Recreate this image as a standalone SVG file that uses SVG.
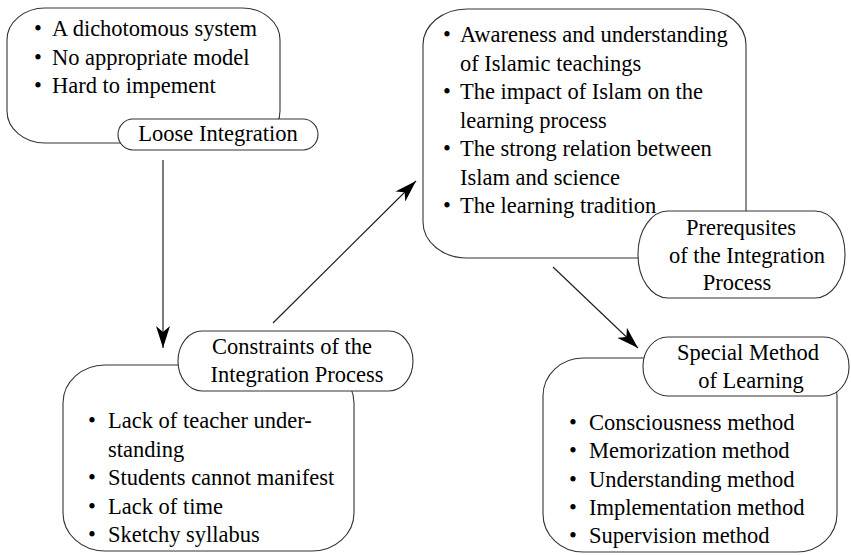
<svg xmlns="http://www.w3.org/2000/svg" width="851" height="555" viewBox="0 0 851 555">
<defs>
<style>
.box{fill:#fff;stroke:#333;stroke-width:1.1}
.t{font-size:22.5px;fill:#000}
.c{text-anchor:middle}
.b{text-anchor:middle}
.ln{stroke:#222;stroke-width:1.2;fill:none}
</style>
<marker id="ah" viewBox="0 0 22 14" refX="22" refY="7" markerWidth="22" markerHeight="14" markerUnits="userSpaceOnUse" orient="auto">
<path d="M0,0 L22,7 L0,14 L6,7 Z" fill="#000"/>
</marker>
</defs>
<rect width="851" height="555" fill="#fff"/>
<g id="connectors">
<line class="ln" x1="163" y1="160" x2="163" y2="348" marker-end="url(#ah)"/>
<line class="ln" x1="273" y1="323" x2="416" y2="181" marker-end="url(#ah)"/>
<line class="ln" x1="553" y1="267" x2="638" y2="348" marker-end="url(#ah)"/>
</g>
<g id="loose" font-family="Liberation Serif">
<rect class="box" x="7" y="8" width="273" height="135" rx="38" ry="32"/>
<text class="t b" x="38" y="36">•</text><text class="t" x="52" y="36">A dichotomous system</text>
<text class="t b" x="38" y="64.5">•</text><text class="t" x="52" y="64.5">No appropriate model</text>
<text class="t b" x="38" y="93">•</text><text class="t" x="52" y="93">Hard to impement</text>
<rect class="box" x="118" y="119" width="200" height="31" rx="15" ry="15.5"/>
<text class="t c" x="218" y="141">Loose Integration</text>
</g>
<g id="prereq" font-family="Liberation Serif">
<rect class="box" x="423" y="9" width="323" height="249" rx="44" ry="36"/>
<text class="t b" x="447" y="42">•</text><text class="t" x="460" y="42">Awareness and understanding</text>
<text class="t" x="460" y="70.5">of Islamic teachings</text>
<text class="t b" x="447" y="99">•</text><text class="t" x="460" y="99">The impact of Islam on the</text>
<text class="t" x="460" y="127.5">learning process</text>
<text class="t b" x="447" y="156">•</text><text class="t" x="460" y="156">The strong relation between</text>
<text class="t" x="460" y="184.5">Islam and science</text>
<text class="t b" x="447" y="213">•</text><text class="t" x="460" y="213">The learning tradition</text>
<rect class="box" x="638" y="211" width="207" height="87" rx="30" ry="43"/>
<text class="t c" x="741" y="235">Prerequsites</text>
<text class="t c" x="747" y="263">of the Integration</text>
<text class="t c" x="737" y="290">Process</text>
</g>
<g id="constraints" font-family="Liberation Serif">
<rect class="box" x="63" y="365" width="291" height="186" rx="42" ry="38"/>
<text class="t b" x="92" y="428">•</text><text class="t" x="108" y="428">Lack of teacher under-</text>
<text class="t" x="108" y="456.5">standing</text>
<text class="t b" x="92" y="485">•</text><text class="t" x="108" y="485">Students cannot manifest</text>
<text class="t b" x="92" y="513.5">•</text><text class="t" x="108" y="513.5">Lack of time</text>
<text class="t b" x="92" y="542">•</text><text class="t" x="108" y="542">Sketchy syllabus</text>
<rect class="box" x="178" y="331" width="235" height="60" rx="24" ry="30"/>
<text class="t c" x="292" y="354">Constraints of the</text>
<text class="t c" x="297" y="382">Integration Process</text>
</g>
<g id="special" font-family="Liberation Serif">
<rect class="box" x="543" y="358" width="294" height="194" rx="40" ry="38"/>
<text class="t b" x="573" y="430">•</text><text class="t" x="589" y="430">Consciousness method</text>
<text class="t b" x="573" y="458">•</text><text class="t" x="589" y="458">Memorization method</text>
<text class="t b" x="573" y="487">•</text><text class="t" x="589" y="487">Understanding method</text>
<text class="t b" x="573" y="515">•</text><text class="t" x="589" y="515">Implementation method</text>
<text class="t b" x="573" y="543">•</text><text class="t" x="589" y="543">Supervision method</text>
<rect class="box" x="643" y="337" width="206" height="59" rx="25" ry="29"/>
<text class="t c" x="748" y="360">Special Method</text>
<text class="t c" x="751" y="388">of Learning</text>
</g>
</svg>
